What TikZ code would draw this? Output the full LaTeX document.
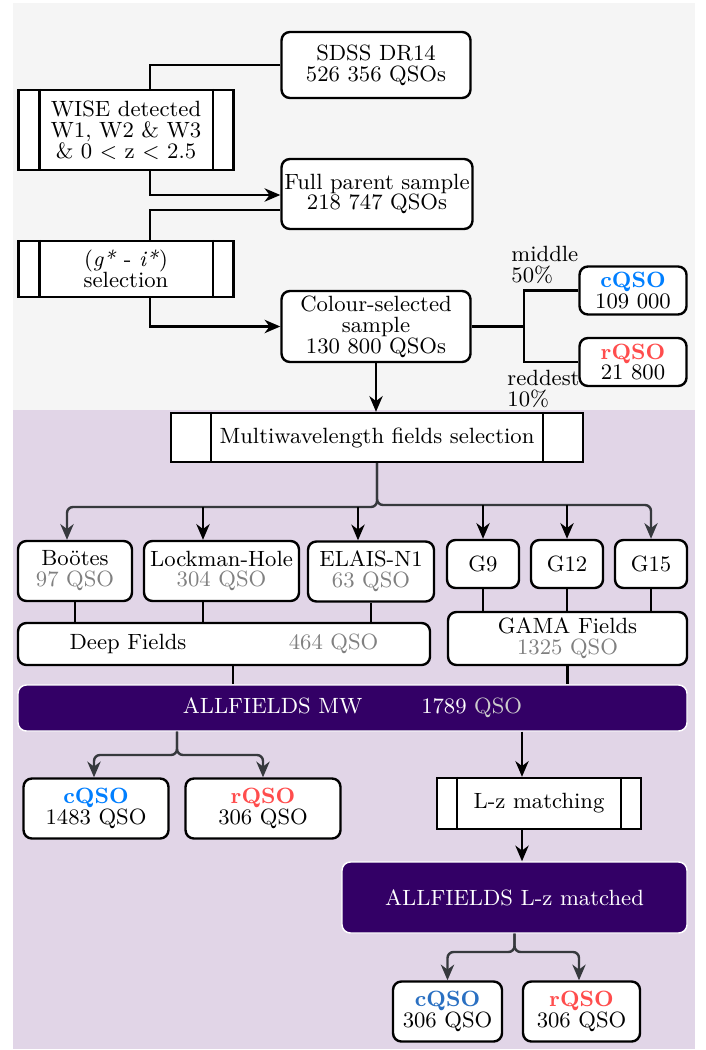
\documentclass[tikz,border=0pt]{standalone}
\usepackage{fontspec}
\usetikzlibrary{arrows.meta,calc}
\definecolor{bggray}{HTML}{F5F5F5}
\definecolor{bgpurple}{HTML}{E1D5E7}
\definecolor{dpurple}{HTML}{330066}
\definecolor{cblue}{HTML}{007FFF}
\definecolor{cblueb}{HTML}{2A70C2}
\definecolor{rred}{HTML}{FF4D4D}
\definecolor{tgray}{HTML}{808080}
\definecolor{lgray}{HTML}{CCCCCC}
\definecolor{cdark}{HTML}{36393D}
\newcommand\pxu{0.4167pt}
\newcommand\fs{\fontsize{9.2}{8.7}\selectfont\lineskiplimit=-100pt\relax}
\newcommand\procl[2]{%
  \draw[line] ([xshift=#2*\pxu]#1.north west) -- ([xshift=#2*\pxu]#1.south west);
  \draw[line] ([xshift=-#2*\pxu]#1.north east) -- ([xshift=-#2*\pxu]#1.south east);}
\begin{document}
\begin{tikzpicture}[x=0.4167pt,y=-0.4167pt,
  sz/.style 2 args={minimum width=#1*\pxu, minimum height=#2*\pxu},
  box/.style={draw, line width=1pt, rounded corners=3.5pt, fill=white, align=center, inner sep=1pt, font=\fs},
  proc/.style={draw, line width=1pt, fill=white, align=center, inner sep=1pt, font=\fs},
  dark/.style={draw=white, line width=0.6pt, rounded corners=3.5pt, fill=dpurple, text=white, align=center, inner sep=1pt, font=\fs},
  line/.style={line width=1pt, draw=black},
  arr/.style={line, -{Stealth[length=6.5pt,width=5.5pt,inset=2pt]}},
  carr/.style={arr, draw=cdark, rounded corners=6*\pxu},
  lab/.style={align=left, inner sep=0pt, font=\fs}]
\useasboundingbox (0,0) rectangle (705,1050);
\fill[bggray] (13,3) rectangle (695,410);
\fill[bgpurple] (13,410) rectangle (695,1049);

% upper part
\node[box, sz={189}{66}] (sdss) at (376,65) {SDSS DR14\\526 356 QSOs};
\node[proc, sz={215}{80}] (wise) at (126,130) {WISE detected\\W1, W2 \& W3\\\& 0 $<$ z $<$ 2.5};
\procl{wise}{22}
\node[box, sz={191}{70}] (full) at (377,194) {Full parent sample\\218 747 QSOs};
\node[proc, sz={215}{56}] (gi) at (126,269) {(\textit{g*} - \textit{i*})\\selection};
\procl{gi}{22}
\node[box, sz={189}{71}] (col) at (376,326.5) {Colour-selected\\sample\\130 800 QSOs};
\node[box, sz={107}{48}] (cq1) at (633,290.5) {\textbf{\textcolor{cblue}{cQSO}}\\109 000};
\node[box, sz={107}{48}] (rq1) at (633,362) {\textbf{\textcolor{rred}{rQSO}}\\21 800};
\node[lab, anchor=north west] (lmid) at (511,246) {middle\\50\%};
\node[lab, anchor=north west] (lred) at (507,370) {reddest\\10\%};
\node[proc, sz={412}{49}] (multi) at (377,437.5) {Multiwavelength fields selection};
\procl{multi}{41}

\draw[line] (sdss.west) -| ([xshift=24*\pxu]wise.north);
\draw[arr] ([xshift=24*\pxu]wise.south) |- ([yshift=-1*\pxu]full.west);
\draw[line] ([yshift=-16*\pxu]full.west) -| ([xshift=24*\pxu]gi.north);
\draw[arr] ([xshift=24*\pxu]gi.south) |- (col.west);
\coordinate (split) at (524,326.5);
\draw[line] (col.east) -- (split) |- (cq1.west);
\draw[line] (split) |- (rq1.west);
\draw[arr] (col.south) -- (col.south |- multi.north);

% fields
\node[box, sz={114}{60}] (boo) at (75,571) {Boötes\\\textcolor{tgray}{97 QSO}};
\node[box, sz={155}{60}] (lock) at (221.5,571) {Lockman-Hole\\\textcolor{tgray}{304 QSO}};
\node[box, sz={126}{60}] (elais) at (371,571.5) {ELAIS-N1\\\textcolor{tgray}{63 QSO}};
\node[box, sz={72}{48}] (g9) at (483,564) {G9};
\node[box, sz={72}{48}] (g12) at (567,564) {G12};
\node[box, sz={72}{48}] (g15) at (651,564) {G15};
\node[box, sz={412}{42}] (deep) at (224,644) {Deep Fields\hspace{42.7pt}\textcolor{tgray}{464 QSO}};
\node[box, sz={239}{53}] (gama) at (567.5,638.5) {GAMA Fields\\\textcolor{tgray}{1325 QSO}};
\node[dark, sz={669}{46}] (allmw) at (352.5,708) {ALLFIELDS MW\hspace{24.5pt}1789 \textcolor{lgray}{QSO}};

\coordinate (hl) at (377,507);
\coordinate (hr) at (377,505);
\coordinate (ab) at ([xshift=-8*\pxu]boo.north);
\coordinate (al) at ([xshift=-18.5*\pxu]lock.north);
\coordinate (ae) at ([xshift=-13*\pxu]elais.north);
\draw[carr] (multi.south) -- (hl) -| (ab);
\draw[carr] (multi.south) -- (hr) -| (g15.north);
\draw[arr] (al |- hl) -- (al);
\draw[arr] (ae |- hl) -- (ae);
\draw[arr] (g9.north |- hr) -- (g9.north);
\draw[arr] (g12.north |- hr) -- (g12.north);

\draw[line] (boo.south) -- (boo.south |- deep.north);
\draw[line] (al |- lock.south) -- (al |- deep.north);
\draw[line] (elais.south) -- (elais.south |- deep.north);
\draw[line] (g9.south) -- (g9.south |- gama.north);
\draw[line] (g12.south) -- (g12.south |- gama.north);
\draw[line] (g15.south) -- (g15.south |- gama.north);
\coordinate (dd) at ([xshift=9*\pxu]deep.south);
\draw[line] (dd) -- (dd |- allmw.north);
\draw[line] (gama.south) -- (gama.south |- allmw.north);

% lower part
\node[box, sz={145}{60}] (cq2) at (96,808.5) {\textbf{\textcolor{cblue}{cQSO}}\\1483 QSO};
\node[box, sz={155}{60}] (rq2) at (263,808.5) {\textbf{\textcolor{rred}{rQSO}}\\306 QSO};
\node[proc, sz={204}{51}] (lz) at (539,803.5) {L-z matching};
\procl{lz}{21}
\node[dark, sz={345}{71}] (alllz) at (514.5,897.5) {ALLFIELDS L-z matched};
\node[box, sz={109}{60}] (cq3) at (447.5,1011.5) {\textbf{\textcolor{cblueb}{cQSO}}\\306 QSO};
\node[box, sz={117}{60}] (rq3) at (581.5,1011.5) {\textbf{\textcolor{rred}{rQSO}}\\306 QSO};

\coordinate (mwl) at ([xshift=-175.5*\pxu]allmw.south);
\coordinate (bj) at (177,755);
\draw[carr] (mwl) -- (bj) -| ([xshift=-2*\pxu]cq2.north);
\draw[carr] (mwl) -- (bj) -| (rq2.north);
\coordinate (lzt) at ([xshift=-17*\pxu]lz.north);
\draw[arr] (lzt |- allmw.south) -- (lzt);
\coordinate (lzb) at ([xshift=-17*\pxu]lz.south);
\draw[arr] (lzb) -- (lzb |- alllz.north);
\coordinate (lzj) at (514.5,952);
\draw[carr] (alllz.south) -- (lzj) -| (cq3.north);
\draw[carr] (alllz.south) -- (lzj) -| ([xshift=-2.5*\pxu]rq3.north);
\end{tikzpicture}
\end{document}
